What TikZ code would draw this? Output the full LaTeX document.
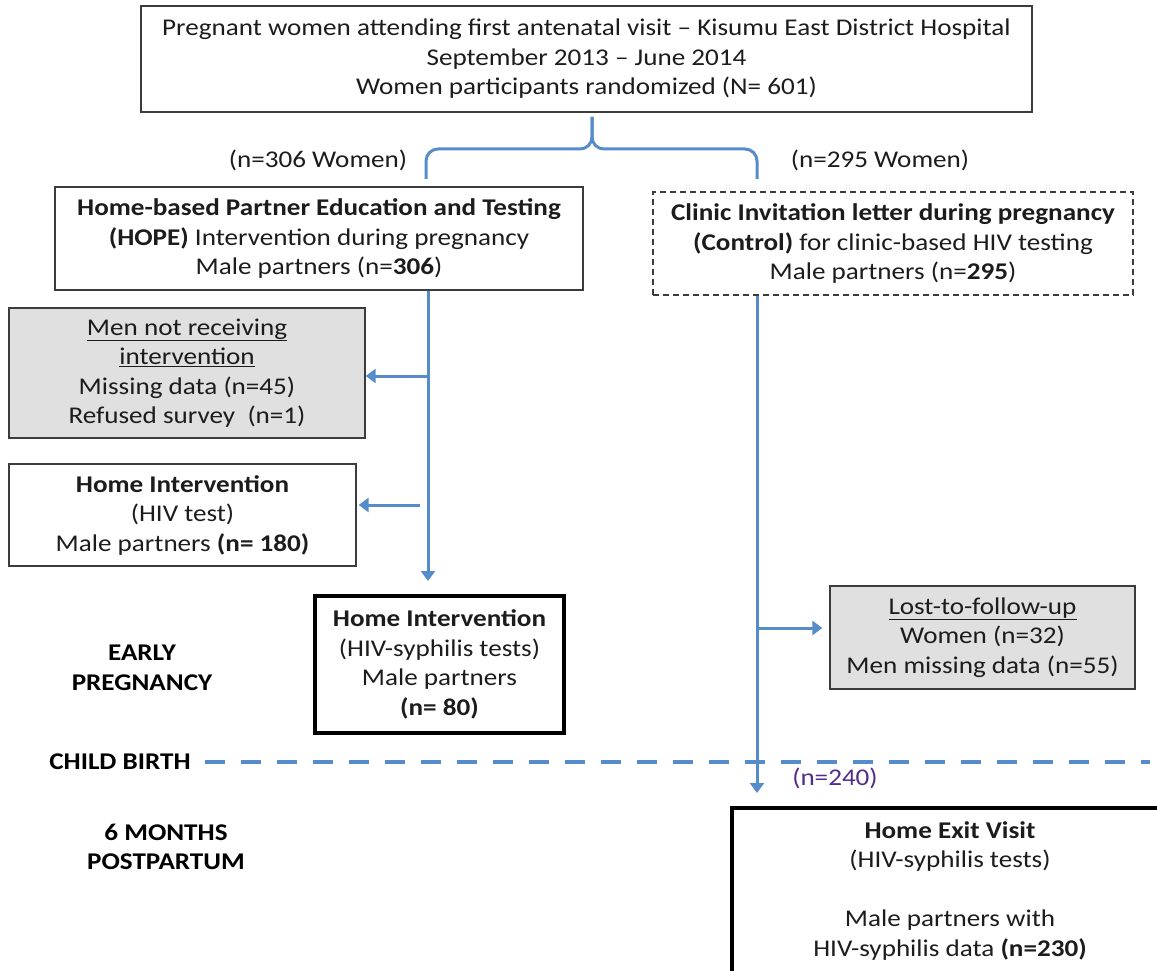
\documentclass[tikz,border=0pt]{standalone}
\usepackage{fontspec}
\setmainfont{Carlito}[FakeStretch=1.13]
\usetikzlibrary{arrows.meta}
\definecolor{flowblue}{RGB}{86,140,201}
\definecolor{boxgray}{RGB}{224,224,224}
\definecolor{countpurple}{RGB}{82,44,140}
\definecolor{edgegray}{RGB}{60,60,60}
\definecolor{inkgray}{RGB}{28,28,28}
\newcommand{\bodyfont}{\fontsize{24}{29.5}\selectfont}

\begin{document}
\begin{tikzpicture}[x=1pt, y=-1pt,
  box/.style={draw=edgegray, line width=1.3pt, align=center, inner sep=0pt, font=\bodyfont, text=inkgray},
  greybox/.style={box, fill=boxgray},
  dashbox/.style={box, dash pattern=on 6pt off 4pt},
  heavybox/.style={box, draw=black, line width=4pt},
  lbl/.style={align=center, font=\bodyfont, text=inkgray},
  phase/.style={align=center, font=\bodyfont\bfseries, text=black},
  link/.style={draw=flowblue, line width=3pt},
  arrow/.style={link, -{Triangle[length=10pt,width=14pt]}},
]
\clip (0,0) rectangle (1157,971);

% Enrolment and randomisation
\node[box, minimum width=891pt, minimum height=106pt] (top) at (586.5,59)
  {Pregnant women attending first antenatal visit -- Kisumu East District Hospital\\
   September 2013 -- June 2014\\Women participants randomized (N= 601)};

\node[lbl] (nleft) at (318,160) {(n=306 Women)};
\node[lbl] (nright) at (880,160) {(n=295 Women)};

\coordinate (btip) at (592,117);
\coordinate (bl) at (426,179);
\coordinate (br) at (757,179);
\draw[link] (bl) -- (426,161) to[out=90,in=180] (438,149) -- (580,149) to[out=0,in=-90] (592,137) -- (btip);
\draw[link] (btip) -- (592,137) to[out=-90,in=180] (604,149) -- (745,149) to[out=0,in=90] (757,161) -- (br);

% Intervention arm
\node[box, minimum width=528pt, minimum height=103pt] (hope) at (319,238.5)
  {\textbf{Home-based Partner Education and Testing}\\
   \textbf{(HOPE)} Intervention during pregnancy\\Male partners (n=\textbf{306})};
\node[greybox, minimum width=356pt, minimum height=130pt] (notrec) at (187,373)
  {\underline{Men not receiving}\\\underline{intervention}\\Missing data (n=45)\\Refused survey\ \ (n=1)};
\node[box, minimum width=347pt, minimum height=102pt] (hivtest) at (182.5,515)
  {\textbf{Home Intervention}\\(HIV test)\\Male partners \textbf{(n= 180)}};
\node[heavybox, minimum width=249pt, minimum height=137pt] (syph) at (439.5,664.5)
  {\textbf{Home Intervention}\\(HIV-syphilis tests)\\Male partners\\\textbf{(n= 80)}};

% Control arm
\node[dashbox, minimum width=480pt, minimum height=103pt] (ctrl) at (893,243.5)
  {\textbf{Clinic Invitation letter during pregnancy}\\
   \textbf{(Control)} for clinic-based HIV testing\\Male partners (n=\textbf{295})};
\node[greybox, minimum width=305pt, minimum height=103pt] (lost) at (982.5,637.5)
  {\underline{Lost-to-follow-up}\\Women (n=32)\\Men missing data (n=55)};
\node[heavybox, minimum width=436pt, minimum height=166pt] (exit) at (950,891)
  {\textbf{Home Exit Visit}\\(HIV-syphilis tests)\\[29.5pt]Male partners with\\HIV-syphilis data \textbf{(n=230)}};

% Time line
\node[phase] (early) at (142,668) {EARLY\\PREGNANCY};
\node[phase] (birth) at (120,762) {CHILD BIRTH};
\node[phase] (postp) at (166,847) {6 MONTHS\\POSTPARTUM};
\coordinate (dl) at (205,762);
\coordinate (dr) at (1150,762);
\draw[link, line width=4pt, dash pattern=on 20pt off 16pt] (dl) -- (dr);

% Flow arrows
\coordinate (ltrunk) at (428,0);
\coordinate (rtrunk) at (757,0);
\draw[arrow, shorten >=13pt] (hope.south -| ltrunk) -- (syph.north -| ltrunk);
\draw[arrow] ([yshift=-3pt]notrec.east -| ltrunk) -- ([yshift=-3pt]notrec.east);
\coordinate (hivarr) at (420,505);
\draw[arrow, shorten >=2pt] (hivarr) -- (hivarr -| hivtest.east);
\draw[arrow, shorten >=13pt] (ctrl.south -| rtrunk) -- (exit.north -| rtrunk);
\coordinate (lostarr) at (757,628);
\draw[arrow, shorten >=7pt] (lostarr) -- (lostarr -| lost.west);

\node[lbl, text=countpurple] (nexit) at (835,778) {(n=240)};
\end{tikzpicture}
\end{document}
